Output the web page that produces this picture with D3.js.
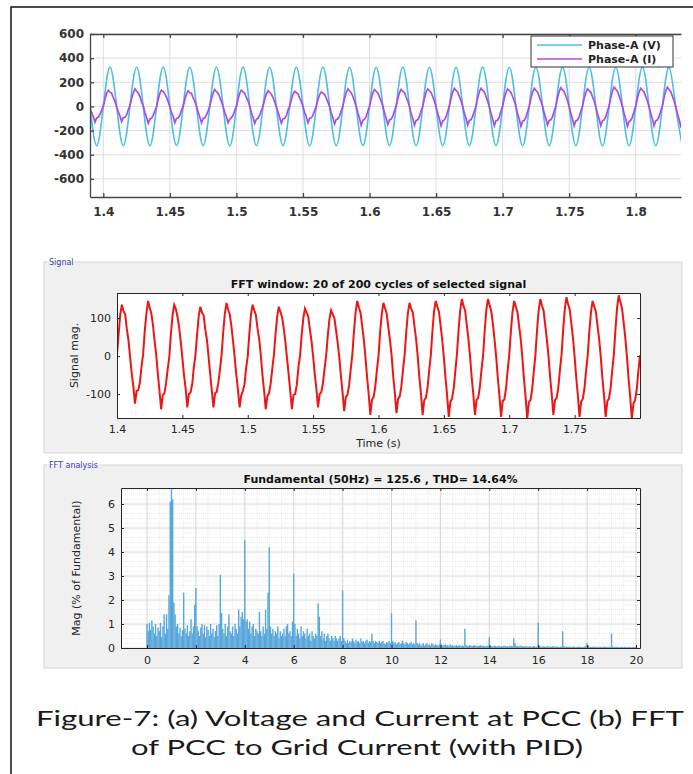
<!DOCTYPE html>
<html lang="en">
<head>
<meta charset="UTF-8">
<title>Figure-7: PCC voltage, current and FFT</title>
<script src="https://d3js.org/d3.v7.min.js"></script>
<style>
  body { margin: 0; background: #fff; }
  svg { display: block; }
  .bold-ticks text { font: bold 12px "DejaVu Sans", sans-serif; fill: #333; }
  .bold-ticks path, .bold-ticks line { stroke: #444; stroke-width: 1.3; }
  .ticks text { font: 11px "DejaVu Sans", sans-serif; fill: #262626; }
  .ticks path, .ticks line { stroke: #262626; stroke-width: 1; }
</style>
</head>
<body>
<svg width="693" height="774"></svg>
<script>
// ---- values ----

// (a) phase-A voltage at the PCC, one sample every 5 ms starting at t = 1.39 s
const vStart = 1.39, vStep = 0.005;
const phaseV = [
  0, -325,
  0, 326, 0, -325,  0, 325, 0, -326,  0, 326, 0, -324,  0, 325, 0, -325,
  0, 325, 0, -326,  0, 326, 0, -325,  0, 324, 0, -325,  0, 325, 0, -326,
  0, 326, 0, -325,  0, 325, 0, -324,  0, 325, 0, -325,  0, 326, 0, -326,
  0, 325, 0, -325,  0, 324, 0, -325,  0, 326, 0, -325,  0, 325, 0, -326,
  0, 325, 0, -325,  0, 326, 0, -325,  0, 325, 0, -326,  0, 325, 0, -325,
  0, 326, 0, -325,  0, 325, 0, -326
];

// phase-A current, one sample every 1.25 ms starting at t = 1.39 s
// (same signal is the one analysed in the FFT window)
const iStart = 1.39, iStep = 0.00125;
const phaseI = [
  -15, -50, -85, -130, -95, -90, -65, -30,
  3, 58, 110, 135, 118, 110, 72, 42, -2, -45, -80, -125, -92, -90, -70, -28,
  5, 68, 112, 145, 128, 112, 82, 40, 4, -48, -92, -140, -103, -98, -72, -35,
  -3, 60, 108, 135, 124, 104, 76, 38, -5, -50, -85, -135, -100, -96, -75, -30,
  2, 57, 106, 130, 114, 108, 70, 44, 0, -46, -90, -135, -98, -95, -70, -36,
  4, 64, 112, 140, 122, 110, 78, 40, -3, -49, -88, -135, -104, -92, -74, -32,
  0, 60, 110, 135, 120, 108, 72, 45, 2, -50, -91, -140, -106, -98, -73, -34,
  3, 58, 104, 130, 116, 102, 74, 38, -4, -47, -92, -140, -102, -100, -76, -30,
  1, 56, 100, 125, 115, 104, 70, 40, 0, -48, -86, -135, -100, -95, -72, -33,
  2, 55, 98, 120, 110, 100, 68, 36, -3, -52, -95, -145, -108, -102, -78, -35,
  4, 66, 116, 145, 128, 114, 80, 44, -2, -55, -100, -155, -115, -108, -82, -38,
  0, 63, 112, 140, 126, 112, 76, 42, 3, -53, -97, -150, -112, -106, -80, -36,
  3, 64, 114, 140, 124, 115, 78, 45, -1, -56, -101, -155, -116, -110, -83, -38,
  2, 66, 118, 145, 130, 116, 80, 43, -4, -58, -104, -160, -120, -112, -85, -40,
  5, 68, 120, 150, 132, 120, 82, 46, 0, -55, -100, -155, -116, -110, -82, -37,
  1, 68, 122, 150, 134, 118, 84, 44, -2, -57, -105, -160, -118, -114, -86, -39,
  3, 65, 116, 145, 130, 116, 80, 46, -3, -60, -107, -165, -122, -116, -88, -41,
  2, 68, 120, 150, 133, 120, 82, 44, 1, -55, -101, -155, -116, -110, -84, -37,
  4, 70, 124, 155, 137, 122, 86, 47, -2, -57, -104, -160, -120, -113, -86, -39,
  1, 65, 116, 145, 131, 117, 80, 45, -3, -58, -104, -160, -119, -112, -85, -38,
  3, 72, 128, 160, 142, 126, 88, 48, -1, -59, -107, -165, -124, -116, -88, -40,
  2, 68, 120, 150, 134, 120, 83, 45, -2, -57, -104, -160, -120, -112, -85, -38,
  4, 72, 128, 160, 140, 125, 87, 47, 0, -56, -104, -160, -120
];

// (b) FFT: magnitude in % of fundamental, harmonic order 0 .. 20 in steps of 0.05
const fftStep = 0.05;
const fftMag = [
  1.0, 0.7, 1.05, 0.75, 1.15, 0.9, 0.6, 1.0, 0.5, 0.85, 0.7, 1.05, 0.45, 0.9, 1.4, 0.6, 1.4, 0.8, 2.2, 6.1,
  100, 6.2, 1.9, 1.4, 0.9, 1.0, 0.6, 0.85, 0.5, 0.75, 2.3, 0.8, 0.6, 0.95, 0.5, 0.7, 1.2, 0.6, 0.9, 1.8,
  2.5, 0.9, 0.7, 0.5, 0.85, 1.0, 0.6, 0.95, 0.45, 0.9, 0.75, 0.5, 1.0, 0.6, 0.8, 0.45, 0.7, 0.95, 0.5, 1.0,
  3.05, 1.45, 0.8, 0.6, 1.0, 0.5, 0.9, 1.4, 0.7, 0.6, 0.9, 0.5, 1.0, 0.8, 0.6, 1.6, 0.9, 1.3, 1.5, 1.2,
  4.5, 1.1, 1.2, 0.8, 1.1, 0.6, 0.9, 1.0, 0.5, 0.8, 0.7, 0.6, 1.5, 0.7, 0.5, 0.9, 0.6, 1.6, 0.8, 2.3,
  4.2, 0.9, 0.6, 0.8, 0.5, 0.7, 0.6, 0.9, 0.4, 0.7, 0.5, 0.6, 0.8, 0.5, 0.9, 1.0, 0.6, 0.7, 0.5, 1.1,
  3.1, 1.0, 0.5, 0.8, 0.6, 0.4, 0.9, 0.5, 0.7, 0.6, 0.4, 0.8, 0.5, 0.6, 0.3, 0.7, 0.5, 0.4, 0.6, 0.5,
  1.85, 1.3, 0.5, 0.7, 0.4, 0.6, 0.3, 0.5, 0.6, 0.4, 0.3, 0.5, 0.4, 0.3, 0.5, 0.4, 0.3, 0.4, 0.5, 0.3,
  2.4, 0.4, 0.3, 0.2, 0.35, 0.2, 0.3, 0.25, 0.4, 0.3, 0.2, 0.35, 0.25, 0.3, 0.2, 0.4, 0.25, 0.3, 0.2, 0.3,
  0.35, 0.2, 0.3, 0.25, 0.6, 0.3, 0.2, 0.3, 0.25, 0.2, 0.3, 0.2, 0.25, 0.3, 0.2, 0.15, 0.25, 0.2, 0.3, 0.2,
  1.45, 0.3, 0.2, 0.25, 0.15, 0.2, 0.25, 0.15, 0.2, 0.3, 0.2, 0.15, 0.25, 0.2, 0.15, 0.2, 0.25, 0.15, 0.2, 0.15,
  1.15, 0.2, 0.15, 0.2, 0.1, 0.15, 0.2, 0.1, 0.15, 0.2, 0.12, 0.15, 0.1, 0.2, 0.15, 0.1, 0.15, 0.12, 0.1, 0.15,
  0.35, 0.15, 0.1, 0.12, 0.15, 0.1, 0.12, 0.08, 0.15, 0.1, 0.12, 0.08, 0.1, 0.12, 0.08, 0.1, 0.12, 0.08, 0.1, 0.08,
  0.8, 0.12, 0.1, 0.08, 0.12, 0.1, 0.08, 0.1, 0.12, 0.08, 0.1, 0.08, 0.1, 0.12, 0.08, 0.1, 0.08, 0.06, 0.1, 0.08,
  0.45, 0.1, 0.08, 0.06, 0.1, 0.08, 0.06, 0.08, 0.1, 0.06, 0.08, 0.06, 0.1, 0.08, 0.06, 0.08, 0.06, 0.1, 0.08, 0.06,
  0.4, 0.2, 0.1, 0.08, 0.06, 0.08, 0.1, 0.06, 0.08, 0.05, 0.08, 0.06, 0.05, 0.08, 0.06, 0.05, 0.08, 0.06, 0.05, 0.06,
  1.05, 0.1, 0.06, 0.05, 0.08, 0.06, 0.05, 0.06, 0.08, 0.05, 0.06, 0.05, 0.08, 0.06, 0.05, 0.06, 0.05, 0.04, 0.06, 0.05,
  0.7, 0.08, 0.05, 0.06, 0.04, 0.05, 0.06, 0.04, 0.05, 0.06, 0.04, 0.05, 0.04, 0.06, 0.05, 0.04, 0.05, 0.04, 0.06, 0.1,
  0.2, 0.1, 0.05, 0.04, 0.05, 0.06, 0.04, 0.05, 0.04, 0.06, 0.04, 0.05, 0.04, 0.05, 0.06, 0.04, 0.05, 0.04, 0.05, 0.04,
  0.6, 0.06, 0.04, 0.05, 0.04, 0.05, 0.04, 0.03, 0.05, 0.04, 0.03, 0.05, 0.04, 0.03, 0.04, 0.05, 0.03, 0.04, 0.03, 0.04,
  0.05
];

// tick values and labels
const timeTicks = [1.4, 1.45, 1.5, 1.55, 1.6, 1.65, 1.7, 1.75, 1.8];
const timeTicks2 = [1.4, 1.45, 1.5, 1.55, 1.6, 1.65, 1.7, 1.75];
const voltTicks = [-600, -400, -200, 0, 200, 400, 600];
const sigTicks = [-100, 0, 100];
const harmTicks = [0, 2, 4, 6, 8, 10, 12, 14, 16, 18, 20];
const magTicks = [0, 1, 2, 3, 4, 5, 6];
const legendNames = ["Phase-A (V)", "Phase-A (I)"];
const seriesColors = ["#4cbfe8", "#b047e6"];
const captionLines = ["Figure-7: (a) Voltage and Current at PCC (b) FFT",
                      "of PCC to Grid Current (with PID)"];

const svg = d3.select("svg");

// outer frame of the figure
svg.append("rect").attr("x", 11).attr("y", 7).attr("width", 700).attr("height", 800)
  .attr("fill", "none").attr("stroke", "#111").attr("stroke-width", 1.5);

const vData = phaseV.map((v, k) => ({ t: vStart + k * vStep, v }));
const iData = phaseI.map((v, k) => ({ t: iStart + k * iStep, v }));

function clip(id, x0, y0, x1, y1) {
  svg.append("clipPath").attr("id", id).append("rect")
    .attr("x", x0).attr("y", y0).attr("width", x1 - x0).attr("height", y1 - y0);
  return `url(#${id})`;
}

// ---------------- (a) voltage & current ----------------
{
  const L = 90, R = 681, T = 34, B = 197;
  const x = d3.scaleLinear().domain([1.39, 1.834]).range([L, R]);
  const y = d3.scaleLinear().domain([-750, 600]).range([B, T]);

  const grid = svg.append("g").attr("stroke", "#dedede").attr("stroke-width", 1);
  grid.selectAll(".gx").data(timeTicks).join("line")
    .attr("x1", d => x(d)).attr("x2", d => x(d)).attr("y1", T).attr("y2", B);
  grid.selectAll(".gy").data(voltTicks).join("line")
    .attr("x1", L).attr("x2", R).attr("y1", d => y(d)).attr("y2", d => y(d));

  const cp = clip("clipA", L, T, R, B);
  svg.append("path").attr("clip-path", cp)
    .attr("d", d3.line().x(d => x(d.t)).y(d => y(d.v)).curve(d3.curveNatural)(vData))
    .attr("fill", "none").attr("stroke", seriesColors[0]).attr("stroke-width", 1.6);
  svg.append("path").attr("clip-path", cp)
    .attr("d", d3.line().x(d => x(d.t)).y(d => y(d.v))(iData))
    .attr("fill", "none").attr("stroke", seriesColors[1]).attr("stroke-width", 1.7);

  svg.append("g").attr("class", "bold-ticks").attr("transform", `translate(0,${B})`)
    .call(d3.axisBottom(x).tickValues(timeTicks).tickSize(-4).tickSizeOuter(0).tickPadding(10).tickFormat(d => String(d)));
  svg.append("g").attr("class", "bold-ticks").attr("transform", `translate(0,${T})`)
    .call(d3.axisTop(x).tickValues(timeTicks).tickSize(-4).tickSizeOuter(0).tickFormat(""));
  svg.append("g").attr("class", "bold-ticks").attr("transform", `translate(${L},0)`)
    .call(d3.axisLeft(y).tickValues(voltTicks).tickSize(-4).tickSizeOuter(0).tickPadding(6).tickFormat(d => String(d)));

  // legend
  const lg = svg.append("g");
  lg.append("rect").attr("x", 531).attr("y", 36).attr("width", 142).attr("height", 31)
    .attr("fill", "#fff").attr("stroke", "#333").attr("stroke-width", 1);
  legendNames.forEach((name, i) => {
    const yy = 45 + i * 14;
    lg.append("line").attr("x1", 537).attr("x2", 582).attr("y1", yy).attr("y2", yy)
      .attr("stroke", seriesColors[i]).attr("stroke-width", 1.5);
    lg.append("text").attr("x", 588).attr("y", yy + 4).text(name)
      .attr("font-family", "DejaVu Sans").attr("font-weight", "bold").attr("font-size", 11).attr("fill", "#222");
  });
}

// uipanel-style group box
function panel(x0, y0, x1, y1, title) {
  svg.append("rect").attr("x", x0).attr("y", y0).attr("width", x1 - x0).attr("height", y1 - y0)
    .attr("fill", "#f0f0f0").attr("stroke", "#d4d4d4").attr("stroke-width", 1);
  const t = svg.append("text").attr("x", x0 + 5).attr("y", y0 + 3).text(title)
    .attr("font-family", "DejaVu Sans").attr("font-size", 8).attr("fill", "#3a3ab8");
  const bb = t.node().getBBox();
  svg.insert("rect", () => t.node()).attr("x", bb.x - 2).attr("y", y0 - 1).attr("width", bb.width + 4).attr("height", 2)
    .attr("fill", "#f0f0f0");
}

// ---------------- (b) signal window ----------------
panel(44, 262, 682, 453, "Signal");
{
  const L = 117, R = 640, T = 293, B = 418;
  const x = d3.scaleLinear().domain([1.4, 1.8]).range([L, R]);
  const y = d3.scaleLinear().domain([-163, 166]).range([B, T]);
  svg.append("rect").attr("x", L).attr("y", T).attr("width", R - L).attr("height", B - T).attr("fill", "#fff");
  const win = iData.filter(d => d.t >= 1.4 - 1e-9 && d.t <= 1.8 + 1e-9);
  svg.append("path").attr("clip-path", clip("clipB", L, T, R, B))
    .attr("d", d3.line().x(d => x(d.t)).y(d => y(d.v))(win))
    .attr("fill", "none").attr("stroke", "#ee1515").attr("stroke-width", 2);

  svg.append("g").attr("class", "ticks").attr("transform", `translate(0,${B})`)
    .call(d3.axisBottom(x).tickValues(timeTicks2).tickSize(-3).tickSizeOuter(0).tickPadding(7).tickFormat(d => String(d)));
  svg.append("g").attr("class", "ticks").attr("transform", `translate(0,${T})`)
    .call(d3.axisTop(x).tickValues(timeTicks2).tickSize(-3).tickSizeOuter(0).tickFormat(""));
  svg.append("g").attr("class", "ticks").attr("transform", `translate(${L},0)`)
    .call(d3.axisLeft(y).tickValues(sigTicks).tickSize(-3).tickSizeOuter(0).tickPadding(6).tickFormat(d => String(d)));
  svg.append("g").attr("class", "ticks").attr("transform", `translate(${R},0)`)
    .call(d3.axisRight(y).tickValues(sigTicks).tickSize(-3).tickSizeOuter(0).tickFormat(""));

  svg.append("text").attr("x", (L + R) / 2).attr("y", T - 5).attr("text-anchor", "middle")
    .text("FFT window: 20 of 200 cycles of selected signal")
    .attr("font-family", "DejaVu Sans").attr("font-weight", "bold").attr("font-size", 11).attr("fill", "#111");
  svg.append("text").attr("x", (L + R) / 2).attr("y", B + 29).attr("text-anchor", "middle")
    .text("Time (s)").attr("font-family", "DejaVu Sans").attr("font-size", 11).attr("fill", "#262626");
  svg.append("text").attr("transform", `translate(78,${(T + B) / 2}) rotate(-90)`).attr("text-anchor", "middle")
    .text("Signal mag.").attr("font-family", "DejaVu Sans").attr("font-size", 11).attr("fill", "#262626");
}

// ---------------- (b) FFT analysis ----------------
panel(44, 465, 682, 668, "FFT analysis");
{
  const L = 121, R = 640, T = 488, B = 648;
  // harmonic 0 sits at x=147, harmonic 20 at x=636
  const x = d3.scaleLinear().domain([0, 20]).range([147, 636]);
  x.domain([x.invert(L), x.invert(R)]).range([L, R]);
  const y = d3.scaleLinear().domain([0, 6.667]).range([B, T]);
  svg.append("rect").attr("x", L).attr("y", T).attr("width", R - L).attr("height", B - T).attr("fill", "#fff");

  const minorX = d3.range(0, 20.01, 0.5).filter(v => v % 2 !== 0);
  const minorY = d3.range(0, 6.61, 0.2).filter(v => Math.abs(v - Math.round(v)) > 1e-6);
  const g = svg.append("g");
  g.selectAll(".mx").data(minorX).join("line").attr("x1", d => x(d)).attr("x2", d => x(d)).attr("y1", T).attr("y2", B)
    .attr("stroke", "#eaeaea").attr("stroke-dasharray", "1,1");
  g.selectAll(".my").data(minorY).join("line").attr("x1", L).attr("x2", R).attr("y1", d => y(d)).attr("y2", d => y(d))
    .attr("stroke", "#eaeaea").attr("stroke-dasharray", "1,1");
  g.selectAll(".gx").data(harmTicks).join("line").attr("x1", d => x(d)).attr("x2", d => x(d)).attr("y1", T).attr("y2", B)
    .attr("stroke", "#d6d6d6");
  g.selectAll(".gy").data(magTicks).join("line").attr("x1", L).attr("x2", R).attr("y1", d => y(d)).attr("y2", d => y(d))
    .attr("stroke", "#d6d6d6");

  const bars = fftMag.map((m, k) => ({ h: k * fftStep, m }));
  svg.append("g").attr("clip-path", clip("clipC", L, T, R, B))
    .selectAll("rect").data(bars).join("rect")
    .attr("x", d => x(d.h) - 0.7).attr("width", 1.4)
    .attr("y", d => y(Math.min(d.m, 6.667))).attr("height", d => B - y(Math.min(d.m, 6.667)))
    .attr("fill", "#57a6dc");

  svg.append("g").attr("class", "ticks").attr("transform", `translate(0,${B})`)
    .call(d3.axisBottom(x).tickValues(harmTicks).tickSize(-3).tickSizeOuter(0).tickPadding(8).tickFormat(d => String(d)));
  svg.append("g").attr("class", "ticks").attr("transform", `translate(0,${T})`)
    .call(d3.axisTop(x).tickValues(harmTicks).tickSize(-3).tickSizeOuter(0).tickFormat(""));
  svg.append("g").attr("class", "ticks").attr("transform", `translate(${L},0)`)
    .call(d3.axisLeft(y).tickValues(magTicks).tickSize(-3).tickSizeOuter(0).tickPadding(6).tickFormat(d => String(d)));
  svg.append("g").attr("class", "ticks").attr("transform", `translate(${R},0)`)
    .call(d3.axisRight(y).tickValues(magTicks).tickSize(-3).tickSizeOuter(0).tickFormat(""));

  svg.append("text").attr("x", (L + R) / 2).attr("y", T - 5).attr("text-anchor", "middle")
    .text("Fundamental (50Hz) = 125.6 , THD= 14.64%")
    .attr("font-family", "DejaVu Sans").attr("font-weight", "bold").attr("font-size", 11).attr("fill", "#111");
  svg.append("text").attr("transform", `translate(80,${(T + B) / 2}) rotate(-90)`).attr("text-anchor", "middle")
    .text("Mag (% of Fundamental)").attr("font-family", "DejaVu Sans").attr("font-size", 11).attr("fill", "#262626");
  // x label is cut off by the bottom of the panel
  svg.append("text").attr("clip-path", clip("clipD", 44, 465, 682, 668))
    .attr("x", (L + R) / 2).attr("y", 677).attr("text-anchor", "middle")
    .text("Harmonic order").attr("font-family", "DejaVu Sans").attr("font-size", 11).attr("fill", "#262626");
}

// caption
captionLines.forEach((s, i) => {
  svg.append("text").attr("x", i ? 357 : 360).attr("y", i ? 755 : 726).attr("text-anchor", "middle")
    .attr("textLength", i ? 452 : 648).attr("lengthAdjust", "spacingAndGlyphs")
    .text(s).attr("font-family", "Lato").attr("font-size", 22).attr("fill", "#1a1a1a");
});
</script>
</body>
</html>
